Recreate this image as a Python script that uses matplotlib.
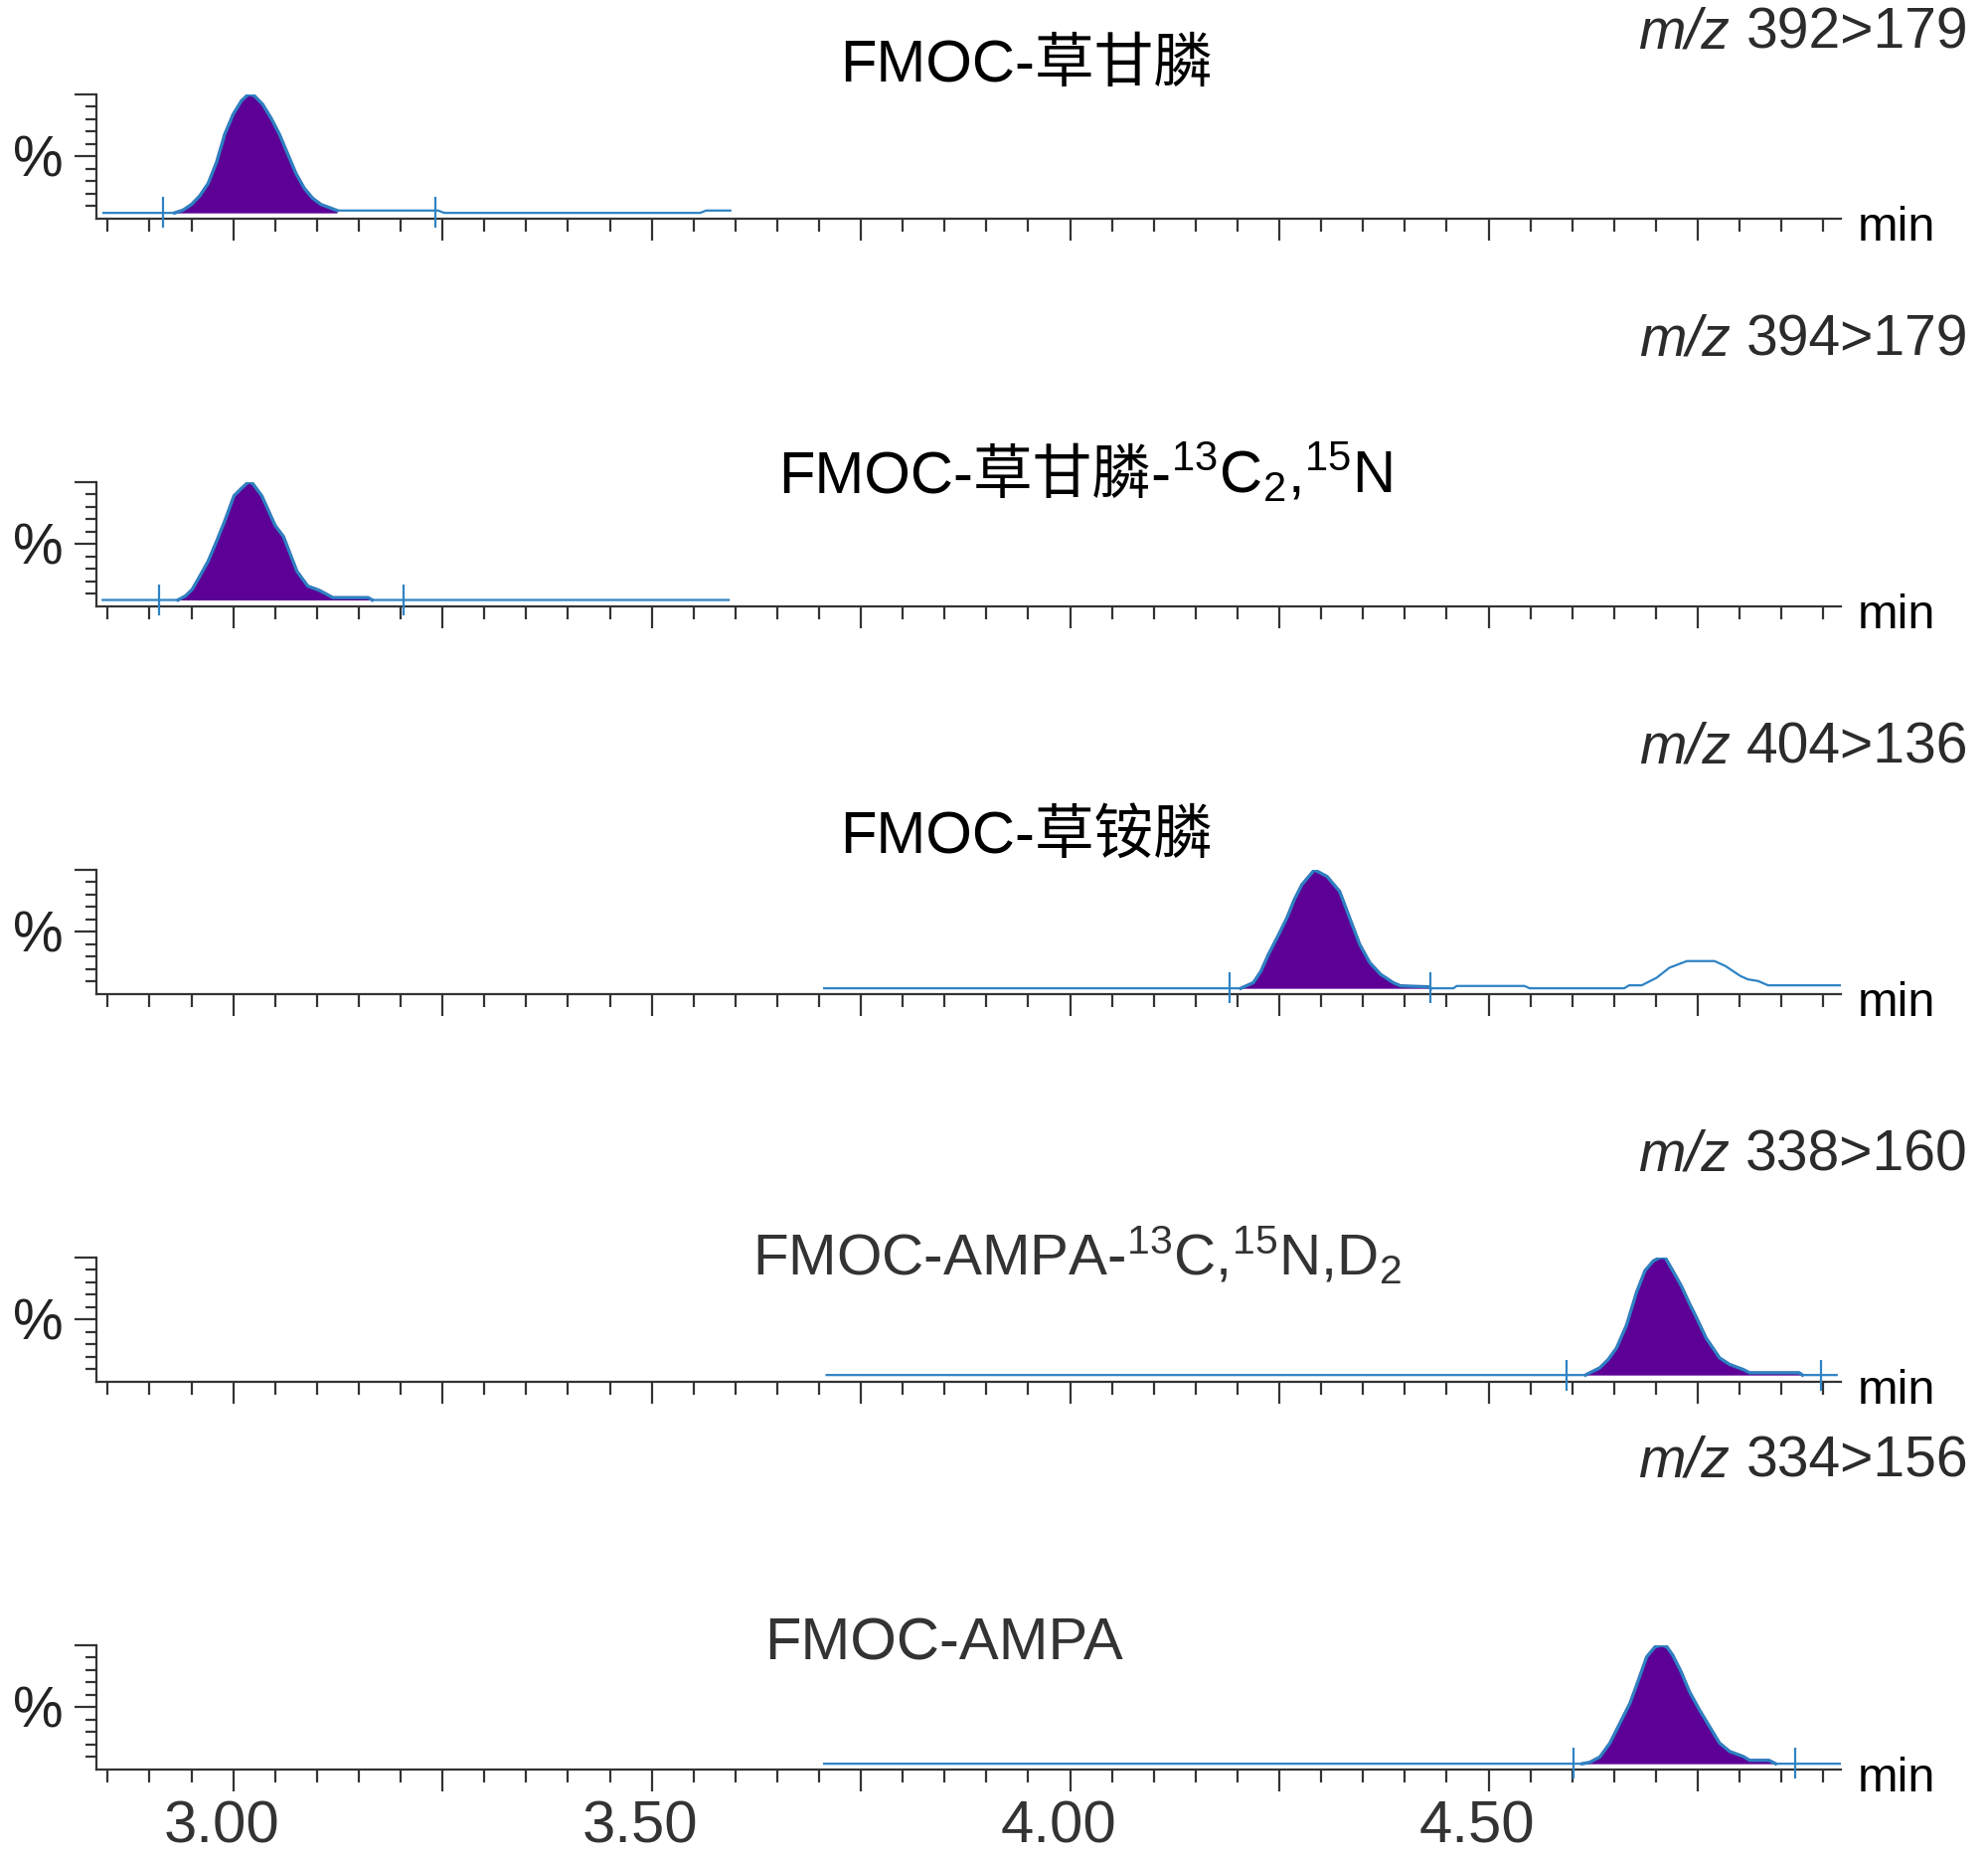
import numpy as np
import matplotlib
matplotlib.use("Agg")
import matplotlib.pyplot as plt
from matplotlib.ticker import FixedLocator, NullFormatter, FixedFormatter
from matplotlib.transforms import ScaledTranslation

plt.rcParams['font.family'] = ['Liberation Sans', 'Noto Sans CJK SC']
plt.rcParams['mathtext.fontset'] = 'custom'
plt.rcParams['mathtext.rm'] = 'Liberation Sans'
plt.rcParams['mathtext.it'] = 'Liberation Sans:italic'
plt.rcParams['mathtext.default'] = 'regular'

# ---- data ----
transitions = ["392>179", "394>179", "404>136", "338>160", "334>156"]

t_392 = [2.845, 2.930, 2.940, 2.950, 2.960, 2.970, 2.980, 2.990, 3.000, 3.010, 3.018, 3.025, 3.035,
         3.045, 3.055, 3.065, 3.075, 3.085, 3.095, 3.105, 3.115, 3.124, 3.245, 3.252, 3.558, 3.565, 3.594]
i_392 = [4.3, 4.3, 6.5, 11, 18, 28, 45, 68, 84, 95, 100, 99, 92,
         81, 68, 52, 36, 24, 16, 11, 8.5, 6.2, 6.2, 4.3, 4.3, 6.2, 6.2]

t_394 = [2.844, 2.934, 2.943, 2.951, 2.959, 2.970, 2.980, 2.989, 3.001, 3.010, 3.018, 3.023, 3.034,
         3.050, 3.060, 3.076, 3.089, 3.103, 3.119, 3.161, 3.166, 3.592]
i_394 = [4.8, 4.8, 8, 13.3, 22.7, 36, 52, 67, 89, 95, 100, 99, 89,
         65, 56, 28, 16, 12.5, 6.7, 6.7, 4.8, 4.8]

t_404 = [3.706, 4.204, 4.219, 4.228, 4.237, 4.248, 4.259, 4.268, 4.277, 4.292, 4.307, 4.322, 4.334,
         4.346, 4.358, 4.371, 4.386, 4.395, 4.428, 4.431, 4.458, 4.462, 4.543, 4.549, 4.662, 4.668,
         4.683, 4.701, 4.716, 4.737, 4.770, 4.783, 4.801, 4.810, 4.822, 4.834, 4.922]
i_404 = [4.3, 4.3, 8.8, 18, 31.6, 46, 61, 76, 88, 100, 94.6, 82.6, 61,
         39.7, 25, 15.5, 8.8, 6.2, 5.5, 4.3, 4.3, 6.2, 6.2, 4.3, 4.3, 6.7,
         6.7, 12.9, 20.9, 26.3, 26.3, 22.3, 14.2, 11.5, 10.2, 6.7, 6.7]

t_338 = [3.709, 4.616, 4.621, 4.633, 4.643, 4.653, 4.665, 4.677, 4.687, 4.697, 4.705, 4.711,
         4.720, 4.730, 4.740, 4.746, 4.760, 4.776, 4.788, 4.804, 4.812, 4.871, 4.875, 4.916]
i_338 = [5.1, 5.1, 6.9, 10.9, 17.6, 26.9, 45.5, 72.1, 89.4, 97.3, 100, 100,
         89.4, 77.4, 62.8, 54.8, 34.8, 18.9, 13.6, 9.6, 6.9, 6.9, 5.1, 5.1]

t_334 = [3.706, 4.612, 4.621, 4.633, 4.645, 4.657, 4.669, 4.677, 4.689, 4.699, 4.707, 4.713,
         4.720, 4.730, 4.740, 4.752, 4.764, 4.776, 4.788, 4.804, 4.812, 4.835, 4.843, 4.920]
i_334 = [4.3, 4.3, 5.4, 9.7, 20.9, 37, 53.1, 67.8, 90.6, 98.7, 100, 98.7,
         92, 78.6, 62.5, 47.7, 34.3, 20.9, 14.2, 10.2, 7, 7, 4.3, 4.3]

# integrated peak window and integration markers
peak_windows = [(2.930, 3.124), (2.934, 3.166), (4.204, 4.431), (4.616, 4.875), (4.612, 4.843)]
markers = [(2.916, 3.241), (2.911, 3.203), (4.190, 4.431), (4.593, 4.897), (4.602, 4.866)]

times = [t_392, t_394, t_404, t_338, t_334]
intens = [i_392, i_394, i_404, i_338, i_334]

x_major = [3.00, 3.25, 3.50, 3.75, 4.00, 4.25, 4.50, 4.75]
x_labels = ["3.00", "", "3.50", "", "4.00", "", "4.50", ""]

# ---- figure ----
W, H = 2000, 1871
fig = plt.figure(figsize=(W / 100, H / 100), dpi=100)

TRACE = '#2f83c4'
EDGE = '#2c6db2'
FILL = '#5c0096'
AX = '#333333'


def fx(px):
    return px / W


def fy(py):
    return 1 - py / H


def rich(x, y, parts, ha='center', size=42, color='black'):
    # lay out text pieces side by side on a common baseline
    r = fig.canvas.get_renderer()
    arts, ws = [], []
    for s, extra, gap in parts:
        a = fig.text(0, y, s, va='baseline', ha='left', fontsize=size, color=color, **extra)
        arts.append(a)
        ws.append(a.get_window_extent(r).width / W + gap / W)
    total = sum(ws)
    x0 = x - total if ha == 'right' else x - total / 2
    for a, w in zip(arts, ws):
        a.set_x(x0)
        x0 += w


axis_y0 = 219.5
step = 390
ax_h = 124.5
left_px, right_px = 97, 1852

for k in range(5):
    ay = axis_y0 + step * k
    ax = fig.add_axes([fx(left_px), fy(ay), fx(right_px - left_px), ax_h / H])
    t = np.array(times[k])
    v = np.array(intens[k])
    a, b = peak_windows[k]
    base = v[0]
    ax.fill_between(t, base, v, where=(t >= a) & (t <= b), color=FILL, lw=0, zorder=2)
    sel = (t >= a) & (t <= b)
    ax.plot(t[sel], v[sel], color=EDGE, lw=2.4, zorder=3, solid_joinstyle='round')
    ax.plot(t, v, color=TRACE, lw=1.6, zorder=3)
    ax.vlines(markers[k], -8, 17, color=TRACE, lw=1.6, clip_on=False, zorder=4)

    ax.set_xlim(2.8365, 4.921)
    ax.set_ylim(0, 100)
    for s in ('top', 'right'):
        ax.spines[s].set_visible(False)
    for s in ('left', 'bottom'):
        ax.spines[s].set_color(AX)
        ax.spines[s].set_linewidth(1.6)

    ax.xaxis.set_major_locator(FixedLocator(x_major))
    ax.xaxis.set_minor_locator(FixedLocator(np.round(np.arange(2.85, 4.92, 0.05), 2)))
    ax.yaxis.set_major_locator(FixedLocator([50, 100]))
    ax.yaxis.set_minor_locator(FixedLocator([10, 20, 30, 40, 60, 70, 80, 90]))
    ax.tick_params(axis='x', which='major', length=16, width=1.6, color=AX, direction='out', pad=6)
    ax.tick_params(axis='x', which='minor', length=9, width=1.6, color=AX, direction='out')
    ax.tick_params(axis='y', which='major', length=16, width=1.6, color=AX, direction='out')
    ax.tick_params(axis='y', which='minor', length=8, width=1.6, color=AX, direction='out')
    ax.set_yticklabels([])
    if k == 4:
        ax.xaxis.set_major_formatter(FixedFormatter(x_labels))
        ax.tick_params(axis='x', labelsize=43, labelcolor=AX)
        off = ScaledTranslation(-12 / 100, 0, fig.dpi_scale_trans)
        for lab in ax.get_xticklabels():
            lab.set_transform(lab.get_transform() + off)
    else:
        ax.xaxis.set_major_formatter(NullFormatter())
    ax.patch.set_alpha(0)

    # side labels
    fig.text(fx(38), fy(ay - 41.5), "%", ha='center', va='baseline', fontsize=41, color='#222222')
    fig.text(fx(1869), fy(ay + 23), "min", ha='left', va='baseline', fontsize=35, color='black')

# transition labels (top right of each panel)
mz_base = [48.5, 358, 768, 1177, 1485]
for lbl, yb in zip(transitions, mz_base):
    rich(fx(1980), fy(yb), [("m/z", {'fontstyle': 'italic'}, 16), (lbl, {}, 0)],
         ha='right', size=41, color='#2b2b2b')

# compound names
rich(fx(1033), fy(82), [("FMOC-草甘膦", {}, 0)], size=43, color='black')
rich(fx(1092), fy(496), [("FMOC-草甘膦-", {}, 0),
                          ("$^{13}$C$_{2}$,$^{15}$N", {'family': 'Liberation Sans'}, 0)],
     size=43, color='black')
rich(fx(1033), fy(858), [("FMOC-草铵膦", {}, 0)], size=43, color='black')
rich(fx(1084), fy(1283), [("FMOC-AMPA-$^{13}$C,$^{15}$N,D$_{2}$", {'family': 'Liberation Sans'}, 0)],
     size=42, color='#333333')
rich(fx(950), fy(1670), [("FMOC-AMPA", {}, 0)], size=43, color='#333333')

fig.savefig("out.png", dpi=100)
